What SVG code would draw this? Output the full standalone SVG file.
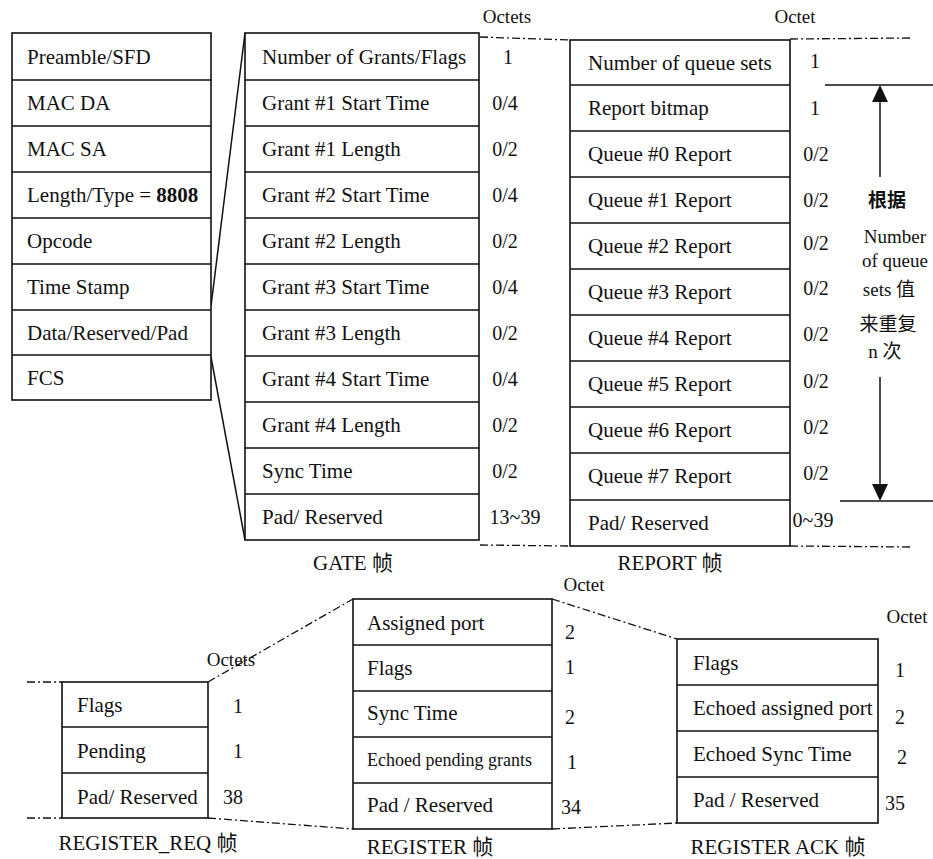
<svg xmlns="http://www.w3.org/2000/svg" width="933" height="859" viewBox="0 0 933 859">
<style>
.box{fill:#fff;stroke:#111;stroke-width:1.6}
.div{stroke:#111;stroke-width:1.4}
.t{font-family:"Liberation Serif","Noto Sans CJK SC",serif;font-size:21px;fill:#111}
.sm{font-size:18px}
.v{font-family:"Liberation Serif","Noto Sans CJK SC",serif;font-size:20px;fill:#111;text-anchor:middle}
.c{font-family:"Liberation Serif","Noto Sans CJK SC",serif;font-size:21px;fill:#111;text-anchor:middle}
.s{font-family:"Liberation Serif","Noto Sans CJK SC",serif;font-size:19px;fill:#111;text-anchor:middle}
.b{font-weight:bold}
.dd{fill:none;stroke:#111;stroke-width:1.3;stroke-dasharray:8 3 2 3}
.ln{fill:none;stroke:#111;stroke-width:1.5}
.head{fill:#111;stroke:none}
</style>

<g id="connectors">
<line class="ln" x1="245" y1="33" x2="211" y2="306"/>
<line class="ln" x1="211" y1="357" x2="245" y2="540"/>
<polyline class="dd" points="480,37 570,40"/>
<polyline class="dd" points="790,39 913,38"/>
<polyline class="dd" points="480,545 570,546"/>
<polyline class="dd" points="790,546 913,547"/>
<line class="ln" x1="825" y1="85" x2="933" y2="85"/>
<line class="ln" x1="840" y1="501" x2="933" y2="501"/>
<line class="ln" x1="880" y1="177" x2="880" y2="100"/>
<polygon class="head" points="880,85 872,102 888,102"/>
<line class="ln" x1="880" y1="377" x2="880" y2="486"/>
<polygon class="head" points="872,484 888,484 880,501"/>
<polyline class="dd" points="27,682 62,682"/>
<polyline class="dd" points="27,818 62,818"/>
<polyline class="dd" points="208,682 353,599"/>
<polyline class="dd" points="208,818 353,829"/>
<polyline class="dd" points="552,599 677,639"/>
<polyline class="dd" points="552,829 677,823"/>
</g>

<g id="mac-frame">
<rect class="box" x="12" y="33" width="199" height="367"/>
<path class="div" d="M12,80H211M12,126H211M12,172H211M12,218H211M12,264H211M12,310H211M12,355H211"/>
<text class="t" x="27" y="64">Preamble/SFD</text>
<text class="t" x="27" y="110">MAC DA</text>
<text class="t" x="27" y="156">MAC SA</text>
<text class="t" x="27" y="202">Length/Type = <tspan class="b">8808</tspan></text>
<text class="t" x="27" y="248">Opcode</text>
<text class="t" x="27" y="294">Time Stamp</text>
<text class="t" x="27" y="340">Data/Reserved/Pad</text>
<text class="t" x="27" y="385">FCS</text>
</g>

<g id="gate-frame">
<rect class="box" x="245" y="33" width="234" height="507"/>
<path class="div" d="M245,80H479M245,126H479M245,172H479M245,218H479M245,264H479M245,310H479M245,356H479M245,402H479M245,448H479M245,494H479"/>
<text class="t" x="262" y="64">Number of Grants/Flags</text>
<text class="t" x="262" y="110">Grant #1 Start Time</text>
<text class="t" x="262" y="156">Grant #1 Length</text>
<text class="t" x="262" y="202">Grant #2 Start Time</text>
<text class="t" x="262" y="248">Grant #2 Length</text>
<text class="t" x="262" y="294">Grant #3 Start Time</text>
<text class="t" x="262" y="340">Grant #3 Length</text>
<text class="t" x="262" y="386">Grant #4 Start Time</text>
<text class="t" x="262" y="432">Grant #4 Length</text>
<text class="t" x="262" y="478">Sync Time</text>
<text class="t" x="262" y="524">Pad/ Reserved</text>
<text class="s" x="507" y="23">Octets</text>
<text class="v" x="508" y="64">1</text>
<text class="v" x="505" y="110">0/4</text>
<text class="v" x="505" y="156">0/2</text>
<text class="v" x="505" y="202">0/4</text>
<text class="v" x="505" y="248">0/2</text>
<text class="v" x="505" y="294">0/4</text>
<text class="v" x="505" y="340">0/2</text>
<text class="v" x="505" y="386">0/4</text>
<text class="v" x="505" y="432">0/2</text>
<text class="v" x="505" y="478">0/2</text>
<text class="v" x="515" y="524">13~39</text>
<text class="c" x="353" y="570">GATE 帧</text>
</g>

<g id="report-frame">
<rect class="box" x="570" y="40" width="220" height="506"/>
<path class="div" d="M570,85H790M570,131H790M570,177H790M570,223H790M570,269H790M570,315H790M570,361H790M570,407H790M570,453H790M570,500H790"/>
<text class="t" x="588" y="70">Number of queue sets</text>
<text class="t" x="588" y="115">Report bitmap</text>
<text class="t" x="588" y="161">Queue #0 Report</text>
<text class="t" x="588" y="207">Queue #1 Report</text>
<text class="t" x="588" y="253">Queue #2 Report</text>
<text class="t" x="588" y="299">Queue #3 Report</text>
<text class="t" x="588" y="345">Queue #4 Report</text>
<text class="t" x="588" y="391">Queue #5 Report</text>
<text class="t" x="588" y="437">Queue #6 Report</text>
<text class="t" x="588" y="483">Queue #7 Report</text>
<text class="t" x="588" y="530">Pad/ Reserved</text>
<text class="s" x="795" y="23">Octet</text>
<text class="v" x="815" y="68">1</text>
<text class="v" x="815" y="115">1</text>
<text class="v" x="816" y="161">0/2</text>
<text class="v" x="816" y="207">0/2</text>
<text class="v" x="816" y="250">0/2</text>
<text class="v" x="816" y="295">0/2</text>
<text class="v" x="816" y="341">0/2</text>
<text class="v" x="816" y="388">0/2</text>
<text class="v" x="816" y="434">0/2</text>
<text class="v" x="816" y="480">0/2</text>
<text class="v" x="813" y="527">0~39</text>
<text class="c" x="670" y="570">REPORT 帧</text>
</g>

<g id="repeat-note">
<text class="s b" x="887" y="207">根据</text>
<text class="s" x="895" y="243">Number</text>
<text class="s" x="895" y="267">of queue</text>
<text class="s" x="889" y="296">sets 值</text>
<text class="s" x="888" y="331">来重复</text>
<text class="s" x="885" y="358">n 次</text>
</g>

<g id="register-req-frame">
<rect class="box" x="62" y="682" width="146" height="136"/>
<path class="div" d="M62,727H208M62,773H208"/>
<text class="t" x="77" y="712">Flags</text>
<text class="t" x="77" y="758">Pending</text>
<text class="t" x="77" y="804">Pad/ Reserved</text>
<text class="s" x="231" y="666">Octets</text>
<text class="v" x="238" y="713">1</text>
<text class="v" x="238" y="758">1</text>
<text class="v" x="233" y="804">38</text>
<text class="c" x="148" y="850">REGISTER_REQ 帧</text>
</g>

<g id="register-frame">
<rect class="box" x="353" y="599" width="199" height="230"/>
<path class="div" d="M353,645H552M353,691H552M353,737H552M353,783H552"/>
<text class="t" x="367" y="630">Assigned port</text>
<text class="t" x="367" y="675">Flags</text>
<text class="t" x="367" y="720">Sync Time</text>
<text class="t sm" x="367" y="766">Echoed pending grants</text>
<text class="t" x="367" y="812">Pad / Reserved</text>
<text class="s" x="584" y="591">Octet</text>
<text class="v" x="570" y="639">2</text>
<text class="v" x="570" y="674">1</text>
<text class="v" x="570" y="724">2</text>
<text class="v" x="572" y="769">1</text>
<text class="v" x="571" y="814">34</text>
<text class="c" x="430" y="854">REGISTER 帧</text>
</g>

<g id="register-ack-frame">
<rect class="box" x="677" y="639" width="201" height="184"/>
<path class="div" d="M677,685H878M677,731H878M677,777H878"/>
<text class="t" x="693" y="670">Flags</text>
<text class="t" x="693" y="715">Echoed assigned port</text>
<text class="t" x="693" y="761">Echoed Sync Time</text>
<text class="t" x="693" y="807">Pad / Reserved</text>
<text class="s" x="907" y="623">Octet</text>
<text class="v" x="900" y="677">1</text>
<text class="v" x="900" y="724">2</text>
<text class="v" x="902" y="764">2</text>
<text class="v" x="895" y="810">35</text>
<text class="c" x="778" y="854">REGISTER ACK 帧</text>
</g>
</svg>
